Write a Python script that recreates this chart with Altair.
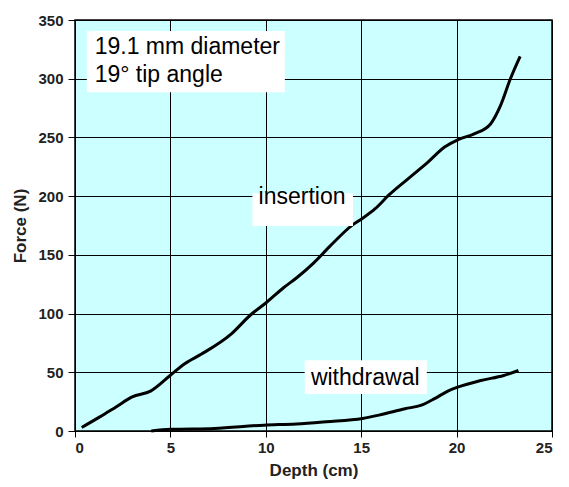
import altair as alt
import pandas as pd

# Insertion curve (depth cm, force N)
ins_depth = [0.35, 1.3, 2.15, 3.0, 3.96, 5.0, 5.77, 6.63, 8.18, 9.21, 10.0, 10.93, 11.62,
             12.5, 13.34, 14.55, 15.06, 15.75, 16.44, 17.47, 18.5, 19.37, 20.06, 20.92,
             21.78, 22.3, 22.81, 23.33]
ins_force = [3, 12, 20.5, 29, 34, 47.5, 57.5, 65.5, 82.5, 99, 109, 122, 130.5,
             143, 157, 175.5, 181, 189.5, 200.8, 215, 229, 241.8, 248, 253,
             261.5, 277, 299.5, 319]

# Withdrawal curve
wd_depth = [4.0, 5.0, 7.3, 9.9, 11.6, 13.17, 15.07, 15.93, 17.3, 18.16, 18.85, 19.54,
            20.06, 21.27, 22.47, 23.24]
wd_force = [0, 1.4, 2.2, 5, 6, 7.9, 10.7, 13.5, 19, 22, 27.6, 34,
            37.4, 43, 47.3, 51.5]

x_ticks = [0, 5, 10, 15, 20, 25]
y_ticks = [0, 50, 100, 150, 200, 250, 300, 350]

# Annotation boxes (data coords) and labels
box_x = [0.62, 9.30, 12.04]
box_x2 = [11.0, 14.57, 18.44]
box_y = [288.5, 174.5, 31.5]
box_y2 = [340.6, 202.4, 60.3]

lines = pd.concat([
    pd.DataFrame({"depth": ins_depth, "force": ins_force, "series": "insertion"}),
    pd.DataFrame({"depth": wd_depth, "force": wd_force, "series": "withdrawal"}),
])
boxes = pd.DataFrame({"x": box_x, "x2": box_x2, "y": box_y, "y2": box_y2})

xs = alt.Scale(domain=[0, 25], nice=False)
ys = alt.Scale(domain=[0, 350], nice=False)

x_axis = alt.Axis(values=x_ticks, title="Depth (cm)", grid=True)
y_axis = alt.Axis(values=y_ticks, title="Force (N)", grid=True)

line_layer = alt.Chart(lines).mark_line(color="black", strokeWidth=3, interpolate="monotone").encode(
    x=alt.X("depth:Q", scale=xs, axis=x_axis),
    y=alt.Y("force:Q", scale=ys, axis=y_axis),
    detail="series:N",
)

box_layer = alt.Chart(boxes).mark_rect(color="white").encode(
    x=alt.X("x:Q", scale=xs), x2="x2:Q",
    y=alt.Y("y:Q", scale=ys), y2="y2:Q",
)

title_text = pd.DataFrame({"x": [1.03, 1.03], "y": [320.7, 297.0],
                           "t": ["19.1 mm diameter", "19° tip angle"]})
label_text = pd.DataFrame({"x": [11.9, 15.21], "y": [199.0, 45.0],
                           "t": ["insertion", "withdrawal"]})

t1 = alt.Chart(title_text).mark_text(align="left", baseline="alphabetic", fontSize=23,
                                     font="Liberation Sans", color="black").encode(
    x=alt.X("x:Q", scale=xs), y=alt.Y("y:Q", scale=ys), text="t:N")
t2 = alt.Chart(label_text).mark_text(align="center", baseline="middle", fontSize=23,
                                     font="Liberation Sans", color="black").encode(
    x=alt.X("x:Q", scale=xs), y=alt.Y("y:Q", scale=ys), text="t:N")

chart = alt.layer(line_layer, box_layer, t1, t2).properties(
    width=477, height=411,
    autosize=alt.AutoSizeParams(type="none"),
    padding={"left": 67, "top": 12, "right": 9, "bottom": 48},
).configure_view(
    fill="#ccffff", stroke="black", strokeWidth=1.5
).configure_axis(
    gridColor="black", gridOpacity=1, gridWidth=1,
    domainColor="black", tickColor="black",
    labelFont="Liberation Sans", labelFontSize=15, labelFontWeight="bold", labelColor="#222",
    titleFont="Liberation Sans", titleFontSize=17, titleFontWeight="bold", titleColor="#222",
).configure_axisX(tickSize=6, titlePadding=7, labelPadding=3
).configure_axisY(tickSize=7, titlePadding=8, labelPadding=5)

chart.save("out.html", embed_options={"renderer": "svg", "actions": False})
